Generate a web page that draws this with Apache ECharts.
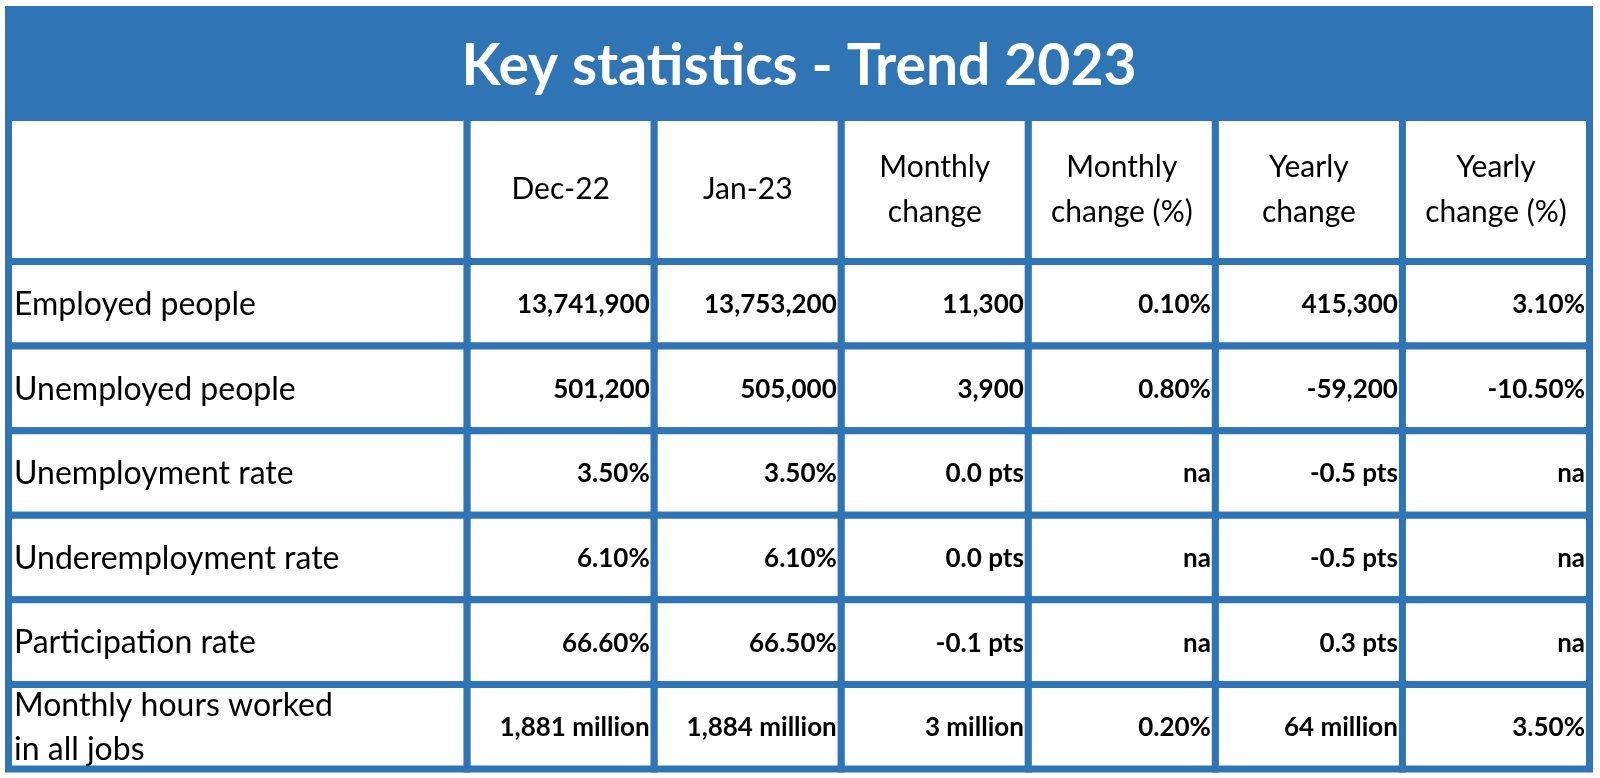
<!DOCTYPE html>
<html>
<head>
<meta charset="utf-8">
<script src="https://cdn.jsdelivr.net/npm/echarts@6/dist/echarts.min.js"></script>
<style>html,body{margin:0;padding:0;background:#fff}#c{width:1600px;height:778px}</style>
</head>
<body>
<div id="c"></div>
<script>
// ---- data ----
const title = 'Key statistics - Trend 2023';
const columns = ['', 'Dec-22', 'Jan-23', 'Monthly\nchange', 'Monthly\nchange (%)', 'Yearly\nchange', 'Yearly\nchange (%)'];
const rowLabels = ['Employed people', 'Unemployed people', 'Unemployment rate', 'Underemployment rate', 'Participation rate', 'Monthly hours worked\nin all jobs'];
const dec22 = ['13,741,900', '501,200', '3.50%', '6.10%', '66.60%', '1,881 million'];
const jan23 = ['13,753,200', '505,000', '3.50%', '6.10%', '66.50%', '1,884 million'];
const monthlyChange = ['11,300', '3,900', '0.0 pts', '0.0 pts', '-0.1 pts', '3 million'];
const monthlyChangePct = ['0.10%', '0.80%', 'na', 'na', 'na', '0.20%'];
const yearlyChange = ['415,300', '-59,200', '-0.5 pts', '-0.5 pts', '0.3 pts', '64 million'];
const yearlyChangePct = ['3.10%', '-10.50%', 'na', 'na', 'na', '3.50%'];

// ---- layout (relative sizes) ----
const colWeights = [2.452, 1, 1, 1, 1, 1, 1];
const titleWeight = 1.2766;
const headerWeight = 1.702;
const BLUE = '#2F74B5';
const HALF = 3.5;
const FONT = 'Lato';

const valueCols = [dec22, jan23, monthlyChange, monthlyChangePct, yearlyChange, yearlyChangePct];
const colStart = [0];
colWeights.forEach((w, i) => colStart.push(colStart[i] + w));
const totalX = colStart[colStart.length - 1];
const rowStart = [-titleWeight, 0, headerWeight];
for (let i = 0; i < rowLabels.length; i++) rowStart.push(headerWeight + i + 1);
const totalY = headerWeight + rowLabels.length;

const cells = [];
cells.push({c: 0, c2: colWeights.length, r: 0, text: title, kind: 'title'});
columns.forEach((h, c) => cells.push({c, c2: c + 1, r: 1, text: h, kind: 'header'}));
rowLabels.forEach((lab, i) => {
  cells.push({c: 0, c2: 1, r: i + 2, text: lab, kind: 'label'});
  valueCols.forEach((arr, j) => cells.push({c: j + 1, c2: j + 2, r: i + 2, text: arr[i], kind: 'value'}));
});

const chart = echarts.init(document.getElementById('c'), null, {renderer: 'canvas'});
chart.setOption({
  animation: false,
  grid: {left: 8.5, right: 10.5, top: 9.5, bottom: 9},
  xAxis: {type: 'value', min: 0, max: totalX, show: false},
  yAxis: {type: 'value', min: -titleWeight, max: totalY, inverse: true, show: false},
  series: [{
    type: 'custom',
    coordinateSystem: 'cartesian2d',
    data: cells.map(d => [colStart[d.c], rowStart[d.r]]),
    renderItem: function (params, api) {
      const d = cells[params.dataIndex];
      const p0 = api.coord([colStart[d.c], rowStart[d.r]]);
      const p1 = api.coord([colStart[d.c2], rowStart[d.r + 1]]);
      const children = [];
      children.push({type: 'rect', shape: {x: p0[0] - HALF, y: p0[1] - HALF, width: p1[0] - p0[0] + 2 * HALF, height: p1[1] - p0[1] + 2 * HALF}, style: {fill: BLUE}});
      const cy = (p0[1] + p1[1]) / 2;
      if (d.kind === 'title') {
        children.push({type: 'text', style: {text: d.text, x: (p0[0] + p1[0]) / 2, y: cy + 3, align: 'center', verticalAlign: 'middle', fill: '#fff', font: 'bold 57px ' + FONT}});
      } else {
        children.push({type: 'rect', shape: {x: p0[0] + HALF, y: p0[1] + HALF, width: p1[0] - p0[0] - 2 * HALF, height: p1[1] - p0[1] - 2 * HALF}, style: {fill: '#fff'}});
        let st;
        if (d.kind === 'header') {
          st = {text: d.text, x: (p0[0] + p1[0]) / 2, y: cy, align: 'center', verticalAlign: 'middle', fill: '#000', font: '30px ' + FONT, lineHeight: 45};
        } else if (d.kind === 'label') {
          st = {text: d.text, x: p0[0] + HALF + 2, y: cy + 1, align: 'left', verticalAlign: 'middle', fill: '#000', font: '32px ' + FONT, lineHeight: 44};
        } else {
          st = {text: d.text, x: p1[0] - HALF - 1, y: cy + 1, align: 'right', verticalAlign: 'middle', fill: '#000', font: 'bold 26px ' + FONT};
        }
        children.push({type: 'text', style: st});
      }
      return {type: 'group', children};
    }
  }]
});
</script>
</body>
</html>
